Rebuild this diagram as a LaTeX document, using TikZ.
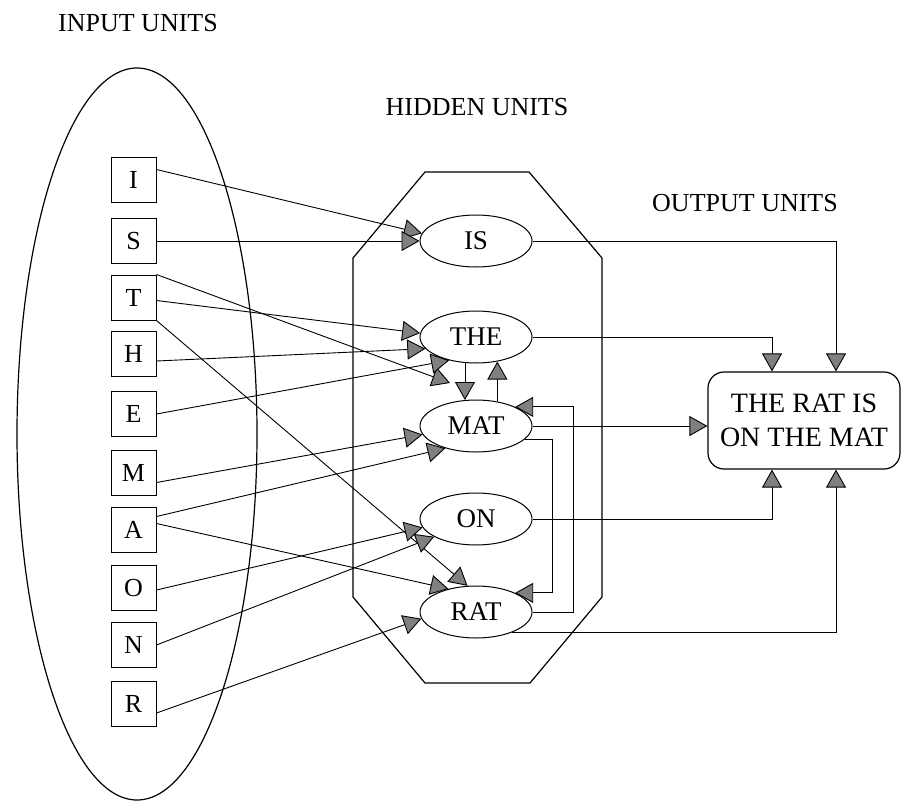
\documentclass[tikz,border=0pt]{standalone}
\usepackage{fontspec}
\setmainfont{Liberation Serif}
\usetikzlibrary{arrows.meta,shapes.geometric,calc}
\begin{document}
\begin{tikzpicture}[x=1pt,y=-1pt,
  lbl/.style={font=\fontsize{26}{30}\selectfont},
  unitbox/.style={draw,line width=1pt,minimum width=45pt,minimum height=45pt,inner sep=0pt,font=\fontsize{26}{30}\selectfont},
  hid/.style={draw,ellipse,line width=1pt,minimum width=112pt,minimum height=52pt,inner sep=0pt,font=\fontsize{27}{30}\selectfont},
  con/.style={line width=0.9pt,-{Triangle[length=18pt,width=20pt,fill=black!50]}},
  ln/.style={line width=0.9pt}]
\useasboundingbox (0,0) rectangle (907,803);

% titles
\node[lbl] (tin) at (138,23) {INPUT UNITS};
\node[lbl] (thid) at (477,107) {HIDDEN UNITS};
\node[lbl] (tout) at (745,203) {OUTPUT UNITS};

% input pool
\node[draw,ellipse,line width=1.2pt,minimum width=240pt,minimum height=732pt,inner sep=0pt] (pool) at (137,434) {};

% input units
\node[unitbox] (I) at (133.5,179.5) {I};
\node[unitbox] (S) at (133.5,241) {S};
\node[unitbox] (T) at (133.5,297.5) {T};
\node[unitbox] (H) at (133.5,354) {H};
\node[unitbox] (E) at (133.5,414) {E};
\node[unitbox] (M) at (133.5,472.5) {M};
\node[unitbox] (A) at (133.5,529.5) {A};
\node[unitbox] (O) at (133.5,588) {O};
\node[unitbox] (N) at (133.5,645) {N};
\node[unitbox] (R) at (133.5,703.5) {R};

% hidden pool (octagon)
\draw[line width=1.2pt] (425,172) -- (529,172) -- (602,258) -- (602,597) -- (530,683) -- (425,683) -- (353,597) -- (353,258) -- cycle;

% hidden units
\node[hid] (IS) at (476,241) {IS};
\node[hid] (THE) at (476,337) {THE};
\node[hid] (MAT) at (476,426) {MAT};
\node[hid] (ON) at (476,519) {ON};
\node[hid] (RAT) at (476,612) {RAT};

% output unit
\node[draw,rounded corners=16pt,line width=1.2pt,minimum width=192pt,minimum height=97pt,align=center,font=\fontsize{28}{34}\selectfont] (OUT) at (804,420.5) {THE RAT IS\\ON THE MAT};

\coordinate (tmat) at (450,383);

% input -> hidden
\draw[con] ([yshift=10pt]I.east) -- (IS.172);
\draw[con] (S.east) -- (IS.west);
\draw[con] ([yshift=-3pt]T.east) -- (THE.176);
\draw[con] (T.north east) -- (tmat);
\draw[con] (T.south east) -- (RAT.108);
\draw[con] ([yshift=-7pt]H.east) -- (THE.193);
\draw[con] (E.east) -- (THE.221);
\draw[con] ([yshift=-10pt]M.east) -- (MAT.189);
\draw[con] ([yshift=13pt]A.east) -- (MAT.216);
\draw[con] ([yshift=6pt]A.east) -- (RAT.140);
\draw[con] ([yshift=-2pt]O.east) -- (ON.189);
\draw[con] (N.east) -- (ON.203);
\draw[con] ([yshift=-9.5pt]R.east) -- (RAT.187);

% hidden <-> hidden
\draw[con] (THE.-113.3) -- (MAT.113.3);
\draw[con] (MAT.49) -- (THE.-49);
\draw[con] (MAT.-15) -- ++(27,0) |- (RAT.26);
\draw[con] (RAT.east) -- ++(41,0) |- (MAT.26);

% hidden -> output
\draw[con] (IS.east) -| ([xshift=32pt]OUT.north);
\draw[con] (THE.east) -| ([xshift=-32pt]OUT.north);
\draw[con] (MAT.east) -- (MAT.east -| OUT.west);
\draw[con] (ON.east) -| ([xshift=-32pt]OUT.south);
\draw[con] (RAT.-30) -| ([xshift=32pt]OUT.south);
\end{tikzpicture}
\end{document}
